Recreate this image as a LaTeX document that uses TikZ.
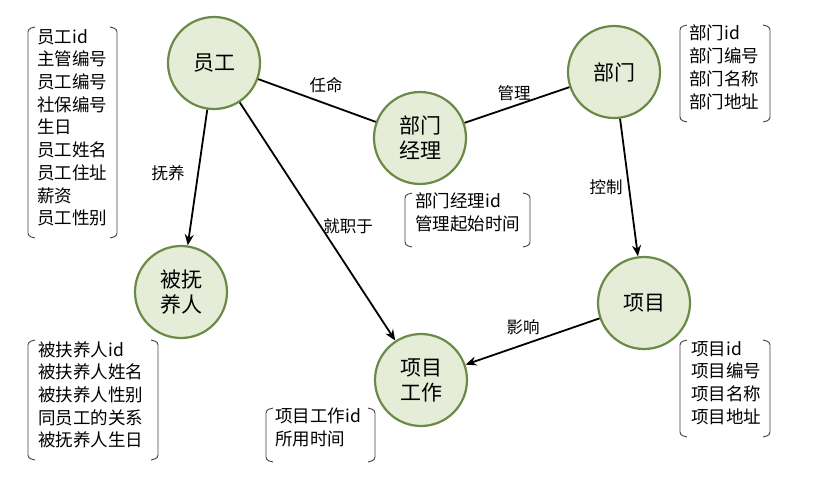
\documentclass[tikz,border=0pt]{standalone}
\usepackage{fontspec}
\setmainfont{Noto Sans CJK SC}
\usetikzlibrary{arrows.meta}
\definecolor{cfill}{HTML}{E5EDD8}
\definecolor{cline}{HTML}{6A8A45}
\begin{document}
\begin{tikzpicture}[x=1pt,y=-1pt,
  ent/.style={circle,draw=cline,line width=2.2pt,fill=cfill,minimum size=92pt,inner sep=0pt,align=center,font=\fontsize{21}{25}\selectfont},
  lst/.style={align=left,inner sep=0pt,anchor=north west,font=\fontsize{17.5}{22.7}\selectfont},
  lbl/.style={font=\fontsize{16.5}{18}\selectfont},
  rel/.style={line width=1.8pt},
  arr/.style={line width=1.8pt,-{Stealth[length=11pt,width=9pt]}},
  brk/.style={draw=black!75,line width=0.9pt,rounded corners=3pt}]
\useasboundingbox (0,0) rectangle (813,493);
\newcommand\brk[5]{% name x1 y1 x2 y2
 \coordinate (#1a) at (#2,#3); \coordinate (#1b) at (#4,#5);
 \draw[brk] (#2+7,#3) -- (#2,#3+2) -- (#2,#5-2) -- (#2+7,#5);
 \draw[brk] (#4-7,#3) -- (#4,#3+2) -- (#4,#5-2) -- (#4-7,#5);}
\node[ent] (yg) at (214,63) {员工};
\node[ent] (jl) at (420,138) {部门\\经理};
\node[ent] (bm) at (614,72) {部门};
\node[ent] (fy) at (181,292) {被抚\\养人};
\node[ent] (gz) at (421,380) {项目\\工作};
\node[ent] (xm) at (644,303) {项目};
\draw[rel] (yg) -- (jl);
\draw[rel] (jl) -- (bm);
\draw[arr] (yg) -- (fy);
\draw[arr] (yg) -- (gz);
\draw[arr] (bm) -- (xm);
\draw[arr] (xm) -- (gz);
\node[lbl] (l1) at (326,85) {任命};
\node[lbl] (l2) at (514,93) {管理};
\node[lbl] (l3) at (168,173) {抚养};
\node[lbl] (l4) at (348,226) {就职于};
\node[lbl] (l5) at (606,187) {控制};
\node[lbl] (l6) at (523,327) {影响};
\brk{b1}{28}{27}{117}{238}
\node[lst] (t1) at (37,29) {员工id\\主管编号\\员工编号\\社保编号\\生日\\员工姓名\\员工住址\\薪资\\员工性别};
\brk{b2}{680}{25}{770}{122}
\node[lst] (t2) at (689,25) {部门id\\部门编号\\部门名称\\部门地址};
\brk{b3}{405}{193}{530}{247}
\node[lst] (t3) at (415,193) {部门经理id\\管理起始时间};
\brk{b4}{28}{340}{158}{460}
\node[lst] (t4) at (38,341) {被扶养人id\\被扶养人姓名\\被扶养人性别\\同员工的关系\\被抚养人生日};
\brk{b5}{266}{408}{375}{462}
\node[lst] (t5) at (275,408) {项目工作id\\所用时间};
\brk{b6}{680}{340}{770}{437}
\node[lst] (t6) at (691,341) {项目id\\项目编号\\项目名称\\项目地址};
\end{tikzpicture}
\end{document}
